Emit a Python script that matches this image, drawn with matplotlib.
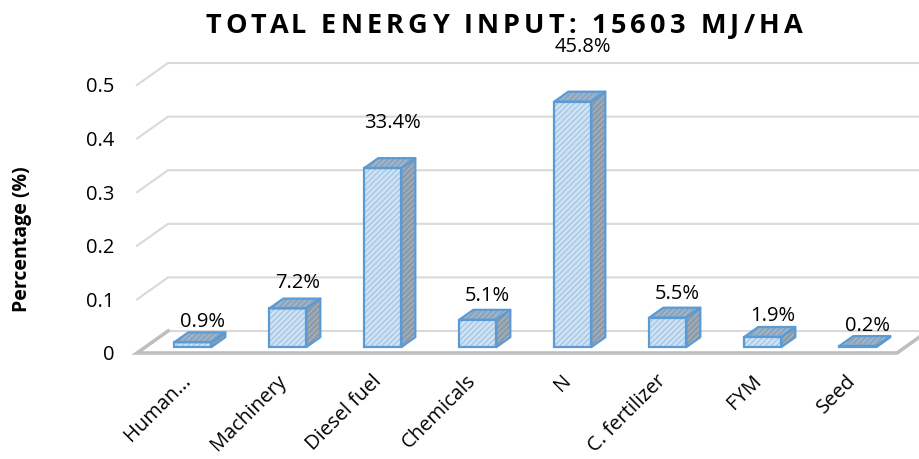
import numpy as np
import matplotlib.pyplot as plt

plt.rcParams['font.family'] = ['Open Sans', 'DejaVu Sans']
plt.rcParams['hatch.linewidth'] = 0.8

categories = ['Human...', 'Machinery', 'Diesel fuel', 'Chemicals', 'N',
              'C. fertilizer', 'FYM', 'Seed']
shares = [0.009, 0.072, 0.334, 0.051, 0.458, 0.055, 0.019, 0.002]
yticks = [0, 0.1, 0.2, 0.3, 0.4, 0.5]
ytick_labels = ['0', '0.1', '0.2', '0.3', '0.4', '0.5']
title = 'TOTAL ENERGY INPUT: 15603 MJ/HA'

W, H = 920, 459

# oblique "3d" look: depth vector of the floor, in data units
depth_x, depth_y = 0.326, 0.041
bar_w = 0.39
front_k, box_k = 0.27, 0.45      # where the boxes sit in the depth, and how deep they are

edge_blue = '#5b9bd5'
front_fc, front_hatch = '#cfe2f3', '#9dc3e6'
side_fc, side_hatch = '#8d9aa8', '#a9b6c3'
top_fc, top_hatch = '#8ea6bd', '#a7bdd2'


def spaced_text(fig, s, xc, y, target_w, **kw):
    """Draw s letter by letter so that it spans target_w pixels, centred on xc."""
    renderer = fig.canvas.get_renderer()

    def width(txt):
        t = fig.text(0, 0, txt, **kw)
        w = t.get_window_extent(renderer).width
        t.remove()
        return w

    bar = width('|')
    offs = [0.0] + [width(s[:k] + '|') - bar for k in range(1, len(s))]
    natural = offs[-1] + width(s[-1])
    sp = (target_w - natural) / (len(s) - 1)
    x0 = xc - target_w / 2
    for k, ch in enumerate(s):
        if ch == ' ':
            continue
        fig.text((x0 + offs[k] + k * sp) / W, y, ch, ha='left', va='baseline', **kw)


fig = plt.figure(figsize=(W / 100, H / 100), dpi=100)
ax = fig.add_axes([137 / W, 106 / H, 760 / W, 0.62 * 536 / H])
ax.set_xlim(-0.5, 7.5)
ax.set_ylim(0, 0.62)
for s in ax.spines.values():
    s.set_visible(False)

x = np.arange(len(categories))
x_right = len(categories) - 0.5

# back wall and left wall gridlines
for v in yticks[1:]:
    ax.plot([-0.5, -0.5 + depth_x, x_right + 1.0], [v, v + depth_y, v + depth_y],
            color='#d9d9d9', lw=1.5, clip_on=False, zorder=1)
ax.plot([-0.5 + depth_x, x_right + 1.0], [depth_y, depth_y],
        color='#d9d9d9', lw=1.5, clip_on=False, zorder=1)

# floor
ax.plot([-0.5 + depth_x, -0.5, x_right, x_right + depth_x], [depth_y, 0, 0, depth_y],
        color='#bfbfbf', lw=2.6, clip_on=False, zorder=2, solid_joinstyle='miter')

# boxes
fx, fy = front_k * depth_x, front_k * depth_y
bx, by = box_k * depth_x, box_k * depth_y
xc = x + fx
ax.bar(xc, shares, width=bar_w, bottom=fy, color=front_fc, edgecolor=front_hatch,
       hatch='//////', lw=0, zorder=3)
ax.bar(xc, shares, width=bar_w, bottom=fy, fill=False, edgecolor=edge_blue,
       lw=1.6, zorder=5)
for xi, v in zip(xc, shares):
    xl, xr = xi - bar_w / 2, xi + bar_w / 2
    y0, y1 = fy, fy + v
    side = [(xr, y0), (xr + bx, y0 + by), (xr + bx, y1 + by), (xr, y1)]
    top = [(xl, y1), (xl + bx, y1 + by), (xr + bx, y1 + by), (xr, y1)]
    for pts, fc, hc in [(side, side_fc, side_hatch), (top, top_fc, top_hatch)]:
        ax.fill(*zip(*pts), facecolor=fc, edgecolor=hc, hatch='//////', lw=0, zorder=3)
        ax.fill(*zip(*pts), fill=False, edgecolor=edge_blue, lw=1.6, zorder=4,
                joinstyle='round')

# value labels
for xi, v in zip(x, shares):
    ax.text(xi + 0.19, v * 1.14 + 0.048, f'{v:.1%}', ha='center', va='center',
            fontsize=14.5, color='#000000', clip_on=False, zorder=6)

ax.set_yticks(yticks)
ax.set_yticklabels(ytick_labels)
ax.tick_params(axis='y', length=0, pad=16, labelsize=14.5, labelcolor='#000000')
ax.set_xticks(x + 0.04)
ax.set_xticklabels(categories, rotation=45, ha='right', va='center',
                   rotation_mode='anchor')
ax.tick_params(axis='x', length=0, pad=18, labelsize=14.5, labelcolor='#000000')

fig.text(22 / W, 1 - 239 / H, 'Percentage (%)', rotation=90, ha='center',
         va='center', fontsize=14, fontweight='bold')
spaced_text(fig, title, 504, 1 - 33 / H, 597, fontsize=19.5, fontweight='bold',
            color='#000000')

fig.savefig('out.png', dpi=100)
